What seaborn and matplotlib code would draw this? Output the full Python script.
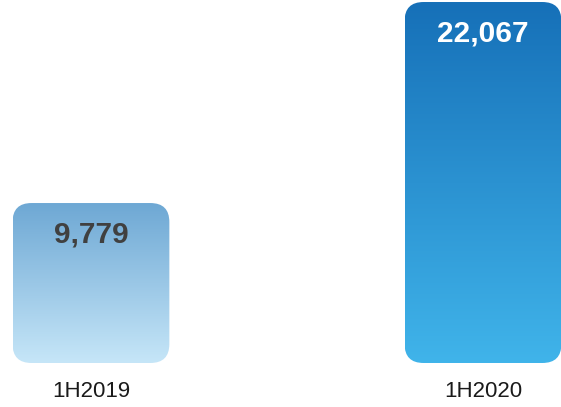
import numpy as np
import pandas as pd
import matplotlib.pyplot as plt
import seaborn as sns
from matplotlib.patches import FancyBboxPatch
from matplotlib.colors import LinearSegmentedColormap

periods = ["1H2019", "1H2020"]
values = [9779, 22067]
value_labels = ["9,779", "22,067"]

TOPS = ["#6ea8d4", "#1670b8"]
BOTTOMS = ["#c6e6f8", "#40b4ea"]
TXT = ["#404040", "white"]

df = pd.DataFrame({"period": periods, "value": values})

sns.set_style("white")
plt.rcParams["font.family"] = ["Liberation Sans", "DejaVu Sans"]

fig = plt.figure(figsize=(5.61, 4.07), dpi=100)
ax = fig.add_axes([0, 44 / 407, 1, 363 / 407])
sns.barplot(data=df, x="period", y="value", width=0.4, ax=ax)
ax.set_xlim(-0.232, 1.199)
ax.set_ylim(0, 22190)

# px -> data conversion for round corners
xpp = (1.199 + 0.232) / 561
ypp = 22190 / 363
r = 19

for i, bar in enumerate(list(ax.patches)):
    x0, w, h = bar.get_x(), bar.get_width(), bar.get_height()
    bar.remove()
    box = FancyBboxPatch((x0, 0), w, h, boxstyle=f"round,pad=0,rounding_size={r * xpp}",
                         mutation_aspect=ypp / xpp, facecolor="none", edgecolor="none")
    ax.add_patch(box)
    cmap = LinearSegmentedColormap.from_list("g", [BOTTOMS[i], TOPS[i]])
    grad = np.linspace(0, 1, 256).reshape(-1, 1)
    im = ax.imshow(grad, cmap=cmap, origin="lower", aspect="auto",
                   extent=(x0, x0 + w, 0, h), zorder=2)
    im.set_clip_path(box)
    ax.text(x0 + w / 2, h - 31 * ypp, value_labels[i], ha="center", va="center",
            fontsize=21.5, fontweight="bold", color=TXT[i], zorder=3)

ax.set_xlim(-0.232, 1.199)
ax.set_ylim(0, 22190)
ax.set_xlabel("")
ax.set_ylabel("")
ax.set_yticks([])
ax.tick_params(axis="x", length=0, pad=13, labelsize=16, labelcolor="#1a1a1a")
sns.despine(ax=ax, left=True, bottom=True)

fig.savefig("out.png", dpi=100)
plt.close()
